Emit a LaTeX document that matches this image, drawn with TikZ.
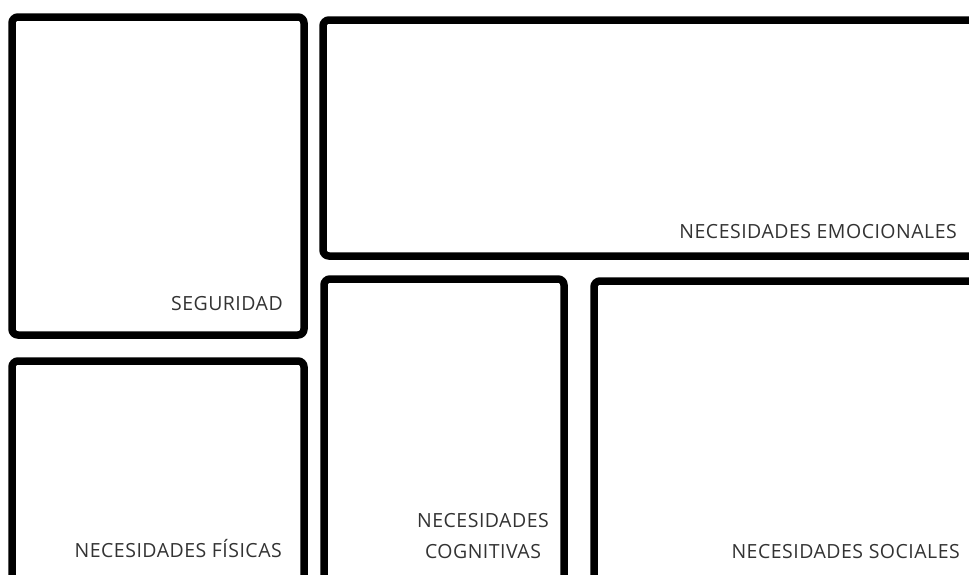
\documentclass[tikz,border=0pt]{standalone}
\usepackage{fontspec}
\setmainfont{Open Sans}[LetterSpace=2.5]
\begin{document}
\begin{tikzpicture}[x=1pt,y=-1pt,
  panel/.style={draw=black,line width=7.5pt,rounded corners=6pt},
  lbl/.style={text=black!80,font=\fontsize{19.5}{24}\selectfont,inner sep=0pt}]
\useasboundingbox (0,0) rectangle (969,574);
\clip (0,0) rectangle (969,574);
\fill[white] (0,0) rectangle (969,574);
\draw[panel] (12,17) rectangle (304,335);
\draw[panel] (12,361) rectangle (304,620);
\draw[panel] (323,20) rectangle (1010,256);
\draw[panel] (324,279) rectangle (564,620);
\draw[panel] (594,281) rectangle (1010,620);
\node[lbl,anchor=base east] (seg) at (283,310) {SEGURIDAD};
\node[lbl,anchor=base east] (fis) at (282,557) {NECESIDADES FÍSICAS};
\node[lbl,anchor=base east] (emo) at (957,238) {NECESIDADES EMOCIONALES};
\node[lbl,anchor=base east] (soc) at (960,558) {NECESIDADES SOCIALES};
\node[lbl,anchor=base] (cog1) at (483,527) {NECESIDADES};
\node[lbl,anchor=base] (cog2) at (483,558) {COGNITIVAS};
\end{tikzpicture}
\end{document}
